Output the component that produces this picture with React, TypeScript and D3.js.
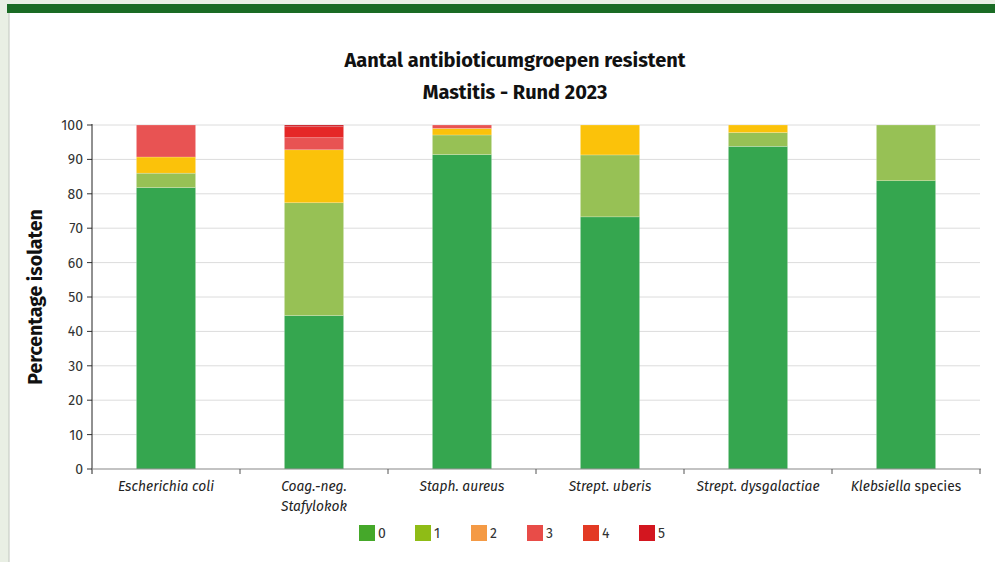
import React from "react";
import * as d3 from "d3";

const categories = ["Escherichia coli", "Coag.-neg. Stafylokok", "Staph. aureus", "Strept. uberis", "Strept. dysgalactiae", "Klebsiella species"];
const seriesKeys = ["0", "1", "2", "3", "4", "5"];
const s0 = [81.8, 44.6, 91.4, 73.3, 93.8, 83.8];
const s1 = [4.2, 32.8, 5.7, 18.0, 4.0, 16.2];
const s2 = [4.7, 15.4, 1.9, 8.7, 2.2, 0];
const s3 = [9.3, 3.5, 1.0, 0, 0, 0];
const s4 = [0, 3.2, 0, 0, 0, 0];
const s5 = [0, 0.5, 0, 0, 0, 0];
const yTicks = [0, 10, 20, 30, 40, 50, 60, 70, 80, 90, 100];

const barColors = ["#35a64f", "#97c155", "#fbc20a", "#e85353", "#e52727", "#c9161e"];
const legendColors = ["#45a82a", "#8fbc16", "#f49a45", "#e84c48", "#e33a24", "#d3161f"];

const W = 995, H = 562;
const FONT = "'Fira Sans', 'Open Sans', 'Noto Sans', sans-serif";

export default function App() {
  const series = [s0, s1, s2, s3, s4, s5];
  const rows = categories.map((c, i) => {
    const r: any = { cat: c };
    seriesKeys.forEach((k, j) => (r[k] = series[j][i]));
    return r;
  });
  const stacked = d3.stack().keys(seriesKeys)(rows);
  const x = d3.scaleBand().domain(categories).range([92, 980]).paddingInner(0.6).paddingOuter(0.3);
  const band = d3.scaleBand().domain(categories).range([92, 980]);
  const y = d3.scaleLinear().domain([0, 100]).range([469, 125]);

  return (
    <div style={{ position: "fixed", left: 0, top: 0 }}>
      <svg width={W} height={H} style={{ display: "block" }}>
        <rect x={0} y={0} width={W} height={H} fill="#e9efe4" />
        <rect x={9} y={13} width={W - 9} height={H - 13} fill="#ffffff" />
        <line x1={9} x2={9} y1={13} y2={H} stroke="#c9cdc6" strokeWidth={1.2} />
        <rect x={7} y={4} width={W - 7} height={9} fill="#1a6b24" />

        <text x={515} y={67} textAnchor="middle" fontFamily={FONT} fontWeight="bold" fontSize={20} fill="#111">Aantal antibioticumgroepen resistent</text>
        <text x={515} y={99} textAnchor="middle" fontFamily={FONT} fontWeight="bold" fontSize={20} fill="#111">Mastitis - Rund 2023</text>

        {yTicks.map((t) => (
          <g key={t}>
            {t > 0 && <line x1={92} x2={980} y1={y(t)} y2={y(t)} stroke="#dcdcdc" strokeWidth={1} />}
            <line x1={87} x2={92} y1={y(t)} y2={y(t)} stroke="#333" strokeWidth={1} />
            <text x={83} y={y(t)} dy="0.35em" textAnchor="end" fontFamily={FONT} fontSize={14} fill="#333">{t}</text>
          </g>
        ))}

        {stacked.map((s, j) => (
          <g key={s.key} fill={barColors[j]}>
            {s.map((d, i) => (d[1] - d[0] > 0 ? (
              <rect key={i} x={x(categories[i])} width={x.bandwidth()} y={y(d[1])} height={y(d[0]) - y(d[1])} stroke="#ffffff" strokeOpacity={0.35} strokeWidth={0.6} />
            ) : null))}
          </g>
        ))}

        <line x1={92} x2={92} y1={124} y2={474} stroke="#222" strokeWidth={1} />
        <line x1={92} x2={981} y1={469} y2={469} stroke="#888" strokeWidth={1.2} />
        {categories.map((c) => (
          <line key={c} x1={band(c)! + band.bandwidth()} x2={band(c)! + band.bandwidth()} y1={469} y2={474} stroke="#555" strokeWidth={1} />
        ))}

        {categories.map((c) => {
          const cx = band(c)! + band.bandwidth() / 2;
          if (c === "Coag.-neg. Stafylokok") {
            return (
              <text key={c} x={cx} textAnchor="middle" fontFamily={FONT} fontSize={13.8} fill="#222" fontStyle="italic">
                <tspan x={cx} y={491}>Coag.-neg.</tspan>
                <tspan x={cx} y={511}>Stafylokok</tspan>
              </text>
            );
          }
          if (c === "Klebsiella species") {
            return (
              <text key={c} x={cx} y={491} textAnchor="middle" fontFamily={FONT} fontSize={13.8} fill="#222">
                <tspan fontStyle="italic">Klebsiella</tspan> species
              </text>
            );
          }
          return (
            <text key={c} x={cx} y={491} textAnchor="middle" fontFamily={FONT} fontSize={13.8} fill="#222" fontStyle="italic">{c}</text>
          );
        })}

        <text transform={`translate(42,${y(50)}) rotate(-90)`} textAnchor="middle" fontFamily={FONT} fontWeight="bold" fontSize={19.5} fill="#111">Percentage isolaten</text>

        {seriesKeys.map((k, j) => (
          <g key={k} transform={`translate(${359 + j * 56},525)`}>
            <rect x={0} y={0} width={16} height={16} fill={legendColors[j]} />
            <text x={19} y={8} dy="0.35em" fontFamily={FONT} fontSize={14} fill="#333">{k}</text>
          </g>
        ))}
      </svg>
    </div>
  );
}
